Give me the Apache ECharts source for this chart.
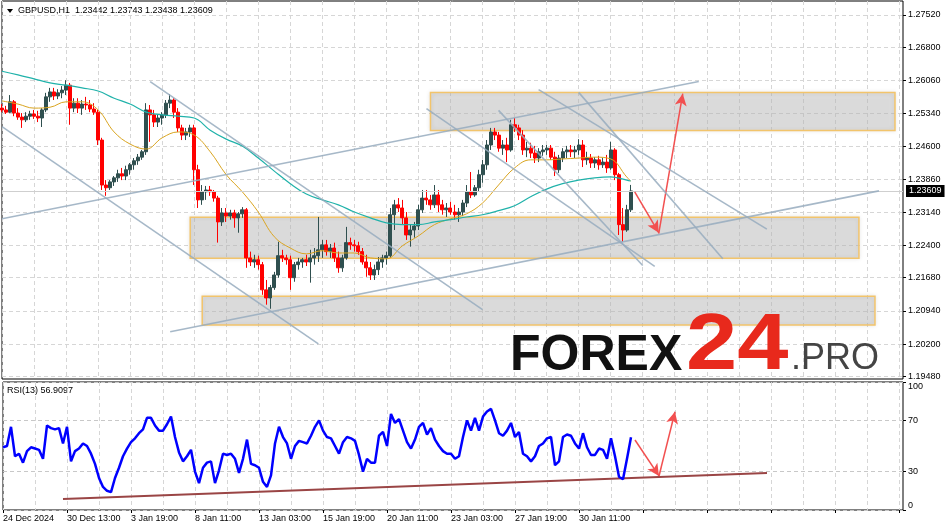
<!DOCTYPE html>
<html><head><meta charset="utf-8">
<script src="https://cdn.jsdelivr.net/npm/echarts@6/dist/echarts.min.js"></script>
<style>html,body{margin:0;padding:0;background:#fff}#c{width:949px;height:531px}</style>
</head><body><div id="c"></div>
<script>
// ---- tick labels ----
const xLabels = ['24 Dec 2024','30 Dec 13:00','3 Jan 19:00','8 Jan 11:00','13 Jan 03:00','15 Jan 19:00','20 Jan 11:00','23 Jan 03:00','27 Jan 19:00','30 Jan 11:00'];
const priceTicks = [1.19480,1.20200,1.20940,1.21680,1.22400,1.23140,1.23860,1.24600,1.25340,1.26060,1.26800,1.27520];
const rsiTicks = [0,30,70,100];
const N_CATS = 226;

// ---- GBPUSD candles (4-hour buckets) ----
const opens = [1.2545,1.2541,1.2536,1.2559,1.2534,1.2525,1.2519,1.2527,1.2532,1.2527,
1.2523,1.2541,1.2570,1.2581,1.2572,1.2579,1.2585,1.2596,1.2545,1.2556,
1.2545,1.2554,1.2552,1.2543,1.2536,1.2474,1.2374,1.2368,1.2381,1.2390,
1.2399,1.2394,1.2408,1.2419,1.2428,1.2436,1.2448,1.2541,1.2530,1.2514,
1.2523,1.2530,1.2556,1.2563,1.2536,1.2501,1.2485,1.2492,1.2501,1.2408,
1.2341,1.2359,1.2363,1.2359,1.2345,1.2292,1.2312,1.2305,1.2312,1.2301,
1.2310,1.2319,1.2212,1.2203,1.2208,1.2197,1.2141,1.2123,1.2146,1.2174,
1.2217,1.2212,1.2208,1.2168,1.2197,1.2203,1.2208,1.2203,1.2212,1.2217,
1.2230,1.2241,1.2226,1.2234,1.2212,1.2190,1.2212,1.2246,1.2241,1.2239,
1.2226,1.2203,1.2190,1.2174,1.2186,1.2203,1.2212,1.2217,1.2308,1.2330,
1.2323,1.2301,1.2263,1.2274,1.2283,1.2319,1.2345,1.2341,1.2330,1.2352,
1.2330,1.2319,1.2323,1.2314,1.2308,1.2314,1.2334,1.2359,1.2352,1.2368,
1.2397,1.2419,1.2463,1.2492,1.2485,1.2456,1.2463,1.2452,1.2508,1.2501,
1.2485,1.2452,1.2456,1.2445,1.2434,1.2448,1.2452,1.2456,1.2436,1.2408,
1.2434,1.2448,1.2452,1.2448,1.2452,1.2463,1.2430,1.2434,1.2423,1.2430,
1.2419,1.2425,1.2412,1.2452,1.2397,1.2286,1.2274,1.2319];
const closes = [1.2541,1.2536,1.2559,1.2534,1.2525,1.2519,1.2527,1.2532,1.2527,1.2523,
1.2541,1.2570,1.2581,1.2572,1.2579,1.2585,1.2596,1.2545,1.2556,1.2545,
1.2554,1.2552,1.2543,1.2536,1.2474,1.2374,1.2368,1.2381,1.2390,1.2399,
1.2394,1.2408,1.2419,1.2428,1.2436,1.2448,1.2541,1.2530,1.2514,1.2523,
1.2530,1.2556,1.2563,1.2536,1.2501,1.2485,1.2492,1.2501,1.2408,1.2341,
1.2359,1.2363,1.2359,1.2345,1.2292,1.2312,1.2305,1.2312,1.2301,1.2310,
1.2319,1.2212,1.2203,1.2208,1.2197,1.2141,1.2123,1.2146,1.2174,1.2217,
1.2212,1.2208,1.2168,1.2197,1.2203,1.2208,1.2203,1.2212,1.2217,1.2230,
1.2241,1.2226,1.2234,1.2212,1.2190,1.2212,1.2246,1.2241,1.2239,1.2226,
1.2203,1.2190,1.2174,1.2186,1.2203,1.2212,1.2217,1.2308,1.2330,1.2323,
1.2301,1.2263,1.2274,1.2283,1.2319,1.2345,1.2341,1.2330,1.2352,1.2330,
1.2319,1.2323,1.2314,1.2308,1.2314,1.2334,1.2359,1.2352,1.2368,1.2397,
1.2419,1.2463,1.2492,1.2485,1.2456,1.2463,1.2452,1.2508,1.2501,1.2485,
1.2452,1.2456,1.2445,1.2434,1.2448,1.2452,1.2456,1.2436,1.2408,1.2434,
1.2448,1.2452,1.2448,1.2452,1.2463,1.2430,1.2434,1.2423,1.2430,1.2419,
1.2425,1.2412,1.2452,1.2397,1.2286,1.2274,1.2319,1.23609];
const highs = [1.2554,1.2550,1.2574,1.2563,1.2545,1.2534,1.2536,1.2539,1.2541,1.2539,
1.2545,1.2579,1.2590,1.2590,1.2587,1.2594,1.2607,1.2601,1.2567,1.2567,
1.2563,1.2570,1.2563,1.2556,1.2541,1.2479,1.2385,1.2385,1.2394,1.2408,
1.2412,1.2417,1.2423,1.2434,1.2443,1.2452,1.2556,1.2552,1.2541,1.2530,
1.2536,1.2563,1.2576,1.2567,1.2545,1.2508,1.2501,1.2508,1.2508,1.2419,
1.2374,1.2372,1.2372,1.2363,1.2350,1.2323,1.2323,1.2319,1.2319,1.2314,
1.2325,1.2323,1.2226,1.2219,1.2217,1.2203,1.2163,1.2152,1.2181,1.2248,
1.2230,1.2219,1.2217,1.2203,1.2212,1.2212,1.2219,1.2230,1.2234,1.2303,
1.2252,1.2252,1.2243,1.2246,1.2226,1.2219,1.2281,1.2257,1.2252,1.2248,
1.2234,1.2219,1.2203,1.2197,1.2214,1.2219,1.2226,1.2323,1.2341,1.2345,
1.2341,1.2314,1.2286,1.2292,1.2330,1.2363,1.2363,1.2352,1.2374,1.2363,
1.2341,1.2334,1.2337,1.2330,1.2323,1.2341,1.2374,1.2403,1.2374,1.2408,
1.2430,1.2474,1.2501,1.2501,1.2492,1.2474,1.2479,1.2519,1.2523,1.2508,
1.2496,1.2470,1.2468,1.2461,1.2456,1.2463,1.2463,1.2463,1.2448,1.2441,
1.2456,1.2461,1.2463,1.2461,1.2476,1.2474,1.2448,1.2443,1.2436,1.2439,
1.2434,1.2441,1.2470,1.2456,1.2401,1.2323,1.2330,1.23743];
const lows = [1.2536,1.2532,1.2534,1.2527,1.2519,1.2501,1.2514,1.2519,1.2521,1.2514,
1.2503,1.2536,1.2559,1.2563,1.2565,1.2567,1.2574,1.2508,1.2536,1.2534,
1.2530,1.2541,1.2536,1.2530,1.2463,1.2363,1.2350,1.2363,1.2372,1.2381,
1.2385,1.2385,1.2397,1.2408,1.2419,1.2430,1.2441,1.2470,1.2503,1.2503,
1.2508,1.2523,1.2545,1.2523,1.2492,1.2474,1.2474,1.2481,1.2374,1.2323,
1.2330,1.2341,1.2350,1.2337,1.2246,1.2283,1.2292,1.2297,1.2279,1.2268,
1.2301,1.2190,1.2194,1.2190,1.2186,1.2130,1.2108,1.2099,1.2141,1.2168,
1.2203,1.2197,1.2141,1.2159,1.2186,1.2190,1.2194,1.2157,1.2197,1.2203,
1.2212,1.2217,1.2212,1.2203,1.2179,1.2181,1.2208,1.2230,1.2226,1.2219,
1.2197,1.2170,1.2163,1.2163,1.2174,1.2190,1.2197,1.2212,1.2274,1.2314,
1.2286,1.2252,1.2237,1.2257,1.2274,1.2312,1.2330,1.2319,1.2323,1.2314,
1.2308,1.2303,1.2308,1.2297,1.2292,1.2305,1.2325,1.2345,1.2348,1.2359,
1.2379,1.2408,1.2452,1.2474,1.2448,1.2441,1.2425,1.2448,1.2492,1.2474,
1.2441,1.2436,1.2434,1.2423,1.2425,1.2439,1.2441,1.2430,1.2394,1.2401,
1.2425,1.2434,1.2436,1.2434,1.2441,1.2414,1.2419,1.2412,1.2412,1.2408,
1.2412,1.2401,1.2408,1.2385,1.2263,1.2248,1.2270,1.2314];

// ---- moving averages, sampled at these candle indices ----
const maIdx = [0,4,8,12,16,20,24,28,32,36,40,44,48,52,56,60,64,68,72,76,80,84,88,92,96,100,104,108,112,116,120,124,128,132,136,140,144,148,152,156,157];
const maFast = [1.2561,1.2554,1.2545,1.2547,1.2559,1.2559,1.2541,1.2492,1.2465,1.2454,1.2479,1.2492,1.2485,1.2448,1.2397,1.2359,1.2314,1.2259,1.2234,1.2221,1.2228,1.2223,1.2223,1.2212,1.2210,1.2239,1.2261,1.2286,1.2299,1.2310,1.2334,1.2374,1.2412,1.2430,1.2430,1.2432,1.2434,1.2436,1.2432,1.2392,1.2383];
const maSlow = [1.2627,1.2619,1.2610,1.2601,1.2596,1.2590,1.2583,1.2567,1.2554,1.2536,1.2530,1.2527,1.2523,1.2496,1.2476,1.2461,1.2434,1.2405,1.2377,1.2354,1.2341,1.2330,1.2314,1.2301,1.2290,1.2286,1.2286,1.2292,1.2297,1.2303,1.2308,1.2317,1.2328,1.2348,1.2365,1.2377,1.2385,1.2390,1.2392,1.2385,1.2383];

// ---- RSI(13) ----
const rsiVals = [49,50,65,42,44,37,46,49,48,47,
40,66,64,63,64,52,65,38,46,48,
52,50,44,36,25,18,15,14,25,33,
42,48,53,56,60,63,72,72,66,62,
62,67,73,57,45,38,42,47,30,21,
33,37,38,21,31,44,43,44,40,29,
40,55,36,35,33,22,18,27,52,65,
57,52,40,50,54,53,52,58,65,70,
62,57,56,50,44,53,57,56,54,43,
30,40,37,37,58,61,50,75,68,71,
62,53,48,55,65,68,59,64,55,50,
46,44,44,40,42,57,70,62,72,62,
73,77,79,70,60,58,62,68,57,61,
44,42,38,42,50,52,56,57,35,38,
57,59,58,52,48,60,49,43,43,48,
47,40,56,42,26,24,40,56.9097];

// ---- annotations (category index, value) ----
const zones = [[107,1.25797,223,1.24953],[47,1.23023,214,1.22112],[50,1.21267,218,1.20629]];
const trendLines = [[0,1.2299,174,1.2604],[0,1.2504,79,1.2021],[37,1.2604,120,1.2097],[106,1.2544,163,1.2193],
  [124,1.2540,160,1.2195],[134,1.2586,191,1.2276],[144,1.2580,180,1.2210],[42,1.2048,219,1.2361]];
const priceArrows = [[158,1.2359,164,1.2268],[164,1.2266,170,1.2577]];
const rsiArrows = [[158,54.7,164,26.6],[164,26.6,168,76.8]];
const rsiTrend = [15,8.6,191,28.9];
const lastPrice = 1.23609;

const FONT = 'Liberation Sans, Arial, sans-serif';
const GRID_LINE = {color:'#d6d6d6', type:[4,3], width:1};
const categories = Array.from({length:N_CATS}, (_, i) => (i % 16 === 0 && xLabels[i/16]) ? xLabels[i/16] : 'b' + i);

const chart = echarts.init(document.getElementById('c'), null, {renderer:'canvas'});

const series = [];
series.push({
  type:'candlestick', xAxisIndex:0, yAxisIndex:0, z:2,
  data: opens.map((o,i)=>[o, closes[i], lows[i], highs[i]]),
  barWidth:3.5,
  itemStyle:{color:'#2f4f4f', color0:'#ff0000', borderColor:'#2f4f4f', borderColor0:'#ff0000', borderWidth:1}
});
series.push({type:'line', xAxisIndex:0, yAxisIndex:0, z:1, data:[], silent:true,
  markLine:{silent:true, symbol:'none', animation:false,
    lineStyle:{color:'#cfcfcf', type:'solid', width:1},
    label:{show:true, position:'end', distance:3, formatter: lastPrice.toFixed(5), backgroundColor:'#000', color:'#fff',
      fontSize:9, fontFamily:FONT, padding:[2,3,1,3]},
    data:[[{coord:[0,lastPrice]},{coord:[N_CATS-1,lastPrice]}]]}});
series.push({type:'line', xAxisIndex:0, yAxisIndex:0, z:3, symbol:'none', smooth:0.4,
  data: maIdx.map((k,j)=>[k, maFast[j]]), lineStyle:{color:'#daa520', width:1}});
series.push({type:'line', xAxisIndex:0, yAxisIndex:0, z:3, symbol:'none', smooth:0.4,
  data: maIdx.map((k,j)=>[k, maSlow[j]]), lineStyle:{color:'#20b2aa', width:1.2}});
series.push({type:'line', xAxisIndex:0, yAxisIndex:0, z:5, data:[], silent:true,
  markArea:{silent:true, animation:false,
    itemStyle:{color:'rgba(190,190,190,0.45)', borderColor:'#f2c46b', borderWidth:1.5,
      shadowBlur:4, shadowColor:'rgba(0,0,0,0.12)'},
    data: zones.map(z=>[{coord:[z[0],z[1]]},{coord:[z[2],z[3]]}])}});
trendLines.forEach(t => series.push({type:'line', xAxisIndex:0, yAxisIndex:0, z:6, symbol:'none', silent:true,
  data:[[t[0],t[1]],[t[2],t[3]]], lineStyle:{color:'rgba(150,172,190,0.85)', width:1.6}}));
series.push({type:'line', xAxisIndex:0, yAxisIndex:0, z:7, data:[], silent:true,
  markLine:{silent:true, animation:false, symbol:['none','arrow'], symbolSize:[9,12],
    lineStyle:{color:'#f25050', width:1.5, type:'solid'}, label:{show:false},
    data: priceArrows.map(a=>[{coord:[a[0],a[1]]},{coord:[a[2],a[3]]}])}});

series.push({type:'line', xAxisIndex:1, yAxisIndex:1, z:3, symbol:'none', data: rsiVals,
  lineStyle:{color:'#0000ff', width:2.5}});
series.push({type:'line', xAxisIndex:1, yAxisIndex:1, z:2, symbol:'none', silent:true,
  data:[[rsiTrend[0],rsiTrend[1]],[rsiTrend[2],rsiTrend[3]]],
  lineStyle:{color:'#9a4545', width:2}});
series.push({type:'line', xAxisIndex:1, yAxisIndex:1, z:7, data:[], silent:true,
  markLine:{silent:true, animation:false, symbol:['none','arrow'], symbolSize:[9,12],
    lineStyle:{color:'#f25050', width:1.5, type:'solid'}, label:{show:false},
    data: rsiArrows.map(a=>[{coord:[a[0],a[1]]},{coord:[a[2],a[3]]}])}});

const option = {
  animation:false,
  backgroundColor:'#fff',
  grid:[
    {left:2, right:46, top:1, height:378, show:true, borderColor:'#000', borderWidth:1, backgroundColor:'#fff'},
    {left:2, right:46, top:382, height:128, show:true, borderColor:'#000', borderWidth:1, backgroundColor:'#fff'}
  ],
  xAxis:[
    {type:'category', gridIndex:0, data:categories, boundaryGap:false,
      axisLine:{show:false}, axisTick:{show:false}, axisLabel:{show:false},
      splitLine:{show:true, interval:7, lineStyle:GRID_LINE}},
    {type:'category', gridIndex:1, data:categories, boundaryGap:false,
      axisLine:{show:false}, axisTick:{show:true, interval:15, length:3, lineStyle:{color:'#000'}},
      axisLabel:{interval:15, align:'left', fontSize:9, fontFamily:FONT, color:'#000', margin:4,
        formatter: v => v.charAt(0)==='b' ? '' : v},
      splitLine:{show:true, interval:7, lineStyle:GRID_LINE}}
  ],
  yAxis:[
    {type:'value', gridIndex:0, position:'right', min:1.194284, max:1.278312,
      axisLine:{show:false},
      axisTick:{show:true, customValues:priceTicks, length:3, lineStyle:{color:'#000'}},
      axisLabel:{customValues:priceTicks, formatter: v => v.toFixed(5), fontSize:9, fontFamily:FONT, color:'#000', margin:5},
      splitLine:{show:true, lineStyle:GRID_LINE}},
    {type:'value', gridIndex:1, position:'right', min:0, max:100,
      axisLine:{show:false},
      axisTick:{show:true, customValues:rsiTicks, length:3, lineStyle:{color:'#000'}},
      axisLabel:{customValues:rsiTicks, fontSize:9, fontFamily:FONT, color:'#000', margin:5,
        verticalAlignMinLabel:'bottom', verticalAlignMaxLabel:'top'},
      splitLine:{show:true, lineStyle:{color:'#c8c8c8', type:[4,3], width:1}}}
  ],
  graphic:[
    {type:'polygon', shape:{points:[[7,9],[13,9],[10,13]]}, style:{fill:'#000'}},
    {type:'text', x:18, y:11, style:{text:'GBPUSD,H1  1.23442 1.23743 1.23438 1.23609', font:'9px '+FONT, fill:'#000', verticalAlign:'middle'}},
    {type:'text', x:7, y:391, style:{text:'RSI(13) 56.9097', font:'9px '+FONT, fill:'#000', verticalAlign:'middle'}},
    {type:'text', x:510, y:356, z:20, style:{text:'FOREX', font:'bold 50px '+FONT, fill:'#111', verticalAlign:'middle'}},
    {type:'text', x:686, y:347, z:20, scaleX:1.15, style:{text:'24', font:'bold 80px '+FONT, fill:'#e8291c', verticalAlign:'middle'}},
    {type:'text', x:791, y:359, z:20, style:{text:'.PRO', font:'36px '+FONT, fill:'#444', verticalAlign:'middle'}}
  ],
  series: series
};
chart.setOption(option);
</script>
</body></html>
